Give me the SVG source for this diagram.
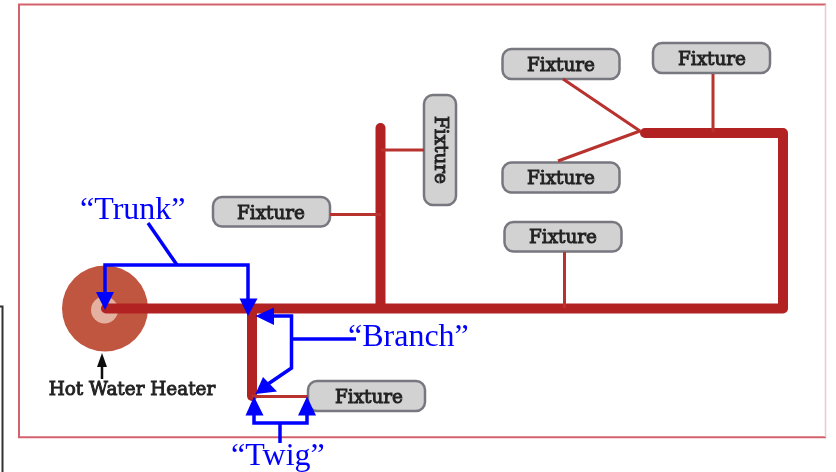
<svg xmlns="http://www.w3.org/2000/svg" width="836" height="472" viewBox="0 0 836 472">
<defs><filter id="soft" x="-5%" y="-5%" width="110%" height="110%"><feGaussianBlur stdDeviation="0.55"/></filter></defs>
<style>
.pipe{fill:none;stroke:#b22222;stroke-linejoin:round;stroke-linecap:round}
.thick{stroke-width:10}
.thin{stroke-width:3;stroke-linecap:butt;stroke:#b8302f}
.blue{fill:none;stroke:#0000ff;stroke-width:3.500}
.head{fill:#0000ff}
.box{fill:#d2d2d2;stroke:#77777f;stroke-width:2.500}
.fx{font-family:"DejaVu Serif","Liberation Serif",serif;font-size:18.400px;font-weight:400;fill:#222;stroke:#222;stroke-width:0.900;text-anchor:middle}
.lbl{font-family:"Liberation Serif",serif;font-size:32px;fill:#0000ff}
</style>
<rect width="836" height="472" fill="#fff"/>
<g filter="url(#soft)">
<path id="frame" d="M826 4.500H19V437.300H826" fill="none" stroke="#d4626c" stroke-width="2"/>
<path id="frame-right" d="M825.500 4.500V437" fill="none" stroke="#ecc8d0" stroke-width="1.500"/>
<path id="outer-frame" d="M0 306.500H2.500V472" fill="none" stroke="#333" stroke-width="2"/>
<g id="heater">
<circle cx="105" cy="308.500" r="43" fill="#c05540"/>
<circle cx="104.500" cy="310" r="13.500" fill="#e4b09f"/>
<text class="fx" x="132" y="395">Hot Water Heater</text>
<path d="M102 379V362" stroke="#111" stroke-width="2.500" fill="none"/>
<path d="M102 353L107 367H97Z" fill="#111"/>
</g>
<g id="fixture-1"><rect class="box" x="502.500" y="49" width="117" height="30" rx="9"/><text class="fx" x="561" y="70.500">Fixture</text></g>
<g id="fixture-2"><rect class="box" x="653" y="43" width="117" height="30" rx="9"/><text class="fx" x="712" y="64.500">Fixture</text></g>
<g id="fixture-3"><rect class="box" x="502.500" y="162.500" width="117" height="30" rx="9"/><text class="fx" x="561" y="184">Fixture</text></g>
<g id="fixture-4"><rect class="box" x="504.500" y="222" width="117" height="29.500" rx="9"/><text class="fx" x="563" y="243">Fixture</text></g>
<g id="fixture-5"><rect class="box" x="213" y="197" width="117" height="29.500" rx="9"/><text class="fx" x="271" y="218.500">Fixture</text></g>
<g id="fixture-6"><rect class="box" x="424" y="95" width="32" height="110" rx="9"/><text class="fx" transform="translate(435 150) rotate(90)">Fixture</text></g>
<g id="fixture-7"><rect class="box" x="308" y="381" width="117" height="30" rx="9"/><text class="fx" x="369" y="403">Fixture</text></g>
<g id="connectors">
<path class="pipe thick" d="M106 308.500H783V133H645"/>
<path class="pipe thick" d="M380.500 308V128"/>
<path class="pipe thick" d="M252 310V396"/>
<path class="pipe thin" d="M252 396.500H308"/>
<path class="pipe thin" d="M330 214.500H381"/>
<path class="pipe thin" d="M381 150H424"/>
<path class="pipe thin" d="M564.500 252V308"/>
<path class="pipe thin" d="M713 74V132"/>
<path class="pipe thin" d="M563 79L640 131L558 161"/>
<path class="blue" d="M105 300V265H248V300"/>
<path class="blue" d="M177 265L148 223"/>
<path class="head" d="M105 310L96 292H114Z"/>
<path class="head" d="M248 316L239.500 298.500H257.500Z"/>
<path class="blue" d="M270 316H291.500V368L268 384"/>
<path class="blue" d="M291.500 339H356"/>
<path class="head" d="M255.500 316L274 307.500V325Z"/>
<path class="head" d="M255.500 394L263 377L277 391.500Z"/>
<path class="blue" d="M254 412V423H307V412"/>
<path class="blue" d="M280 423V443"/>
<path class="head" d="M254 396.500L263.500 415.500H245.500Z"/>
<path class="head" d="M307 396.500L316 415.500H298Z"/>
</g>
<text id="trunk" class="lbl" x="80" y="219">“Trunk”</text>
<text id="branch" class="lbl" x="348" y="346">“Branch”</text>
<text id="twig" class="lbl" x="231" y="465">“Twig”</text>
</g>
</svg>
